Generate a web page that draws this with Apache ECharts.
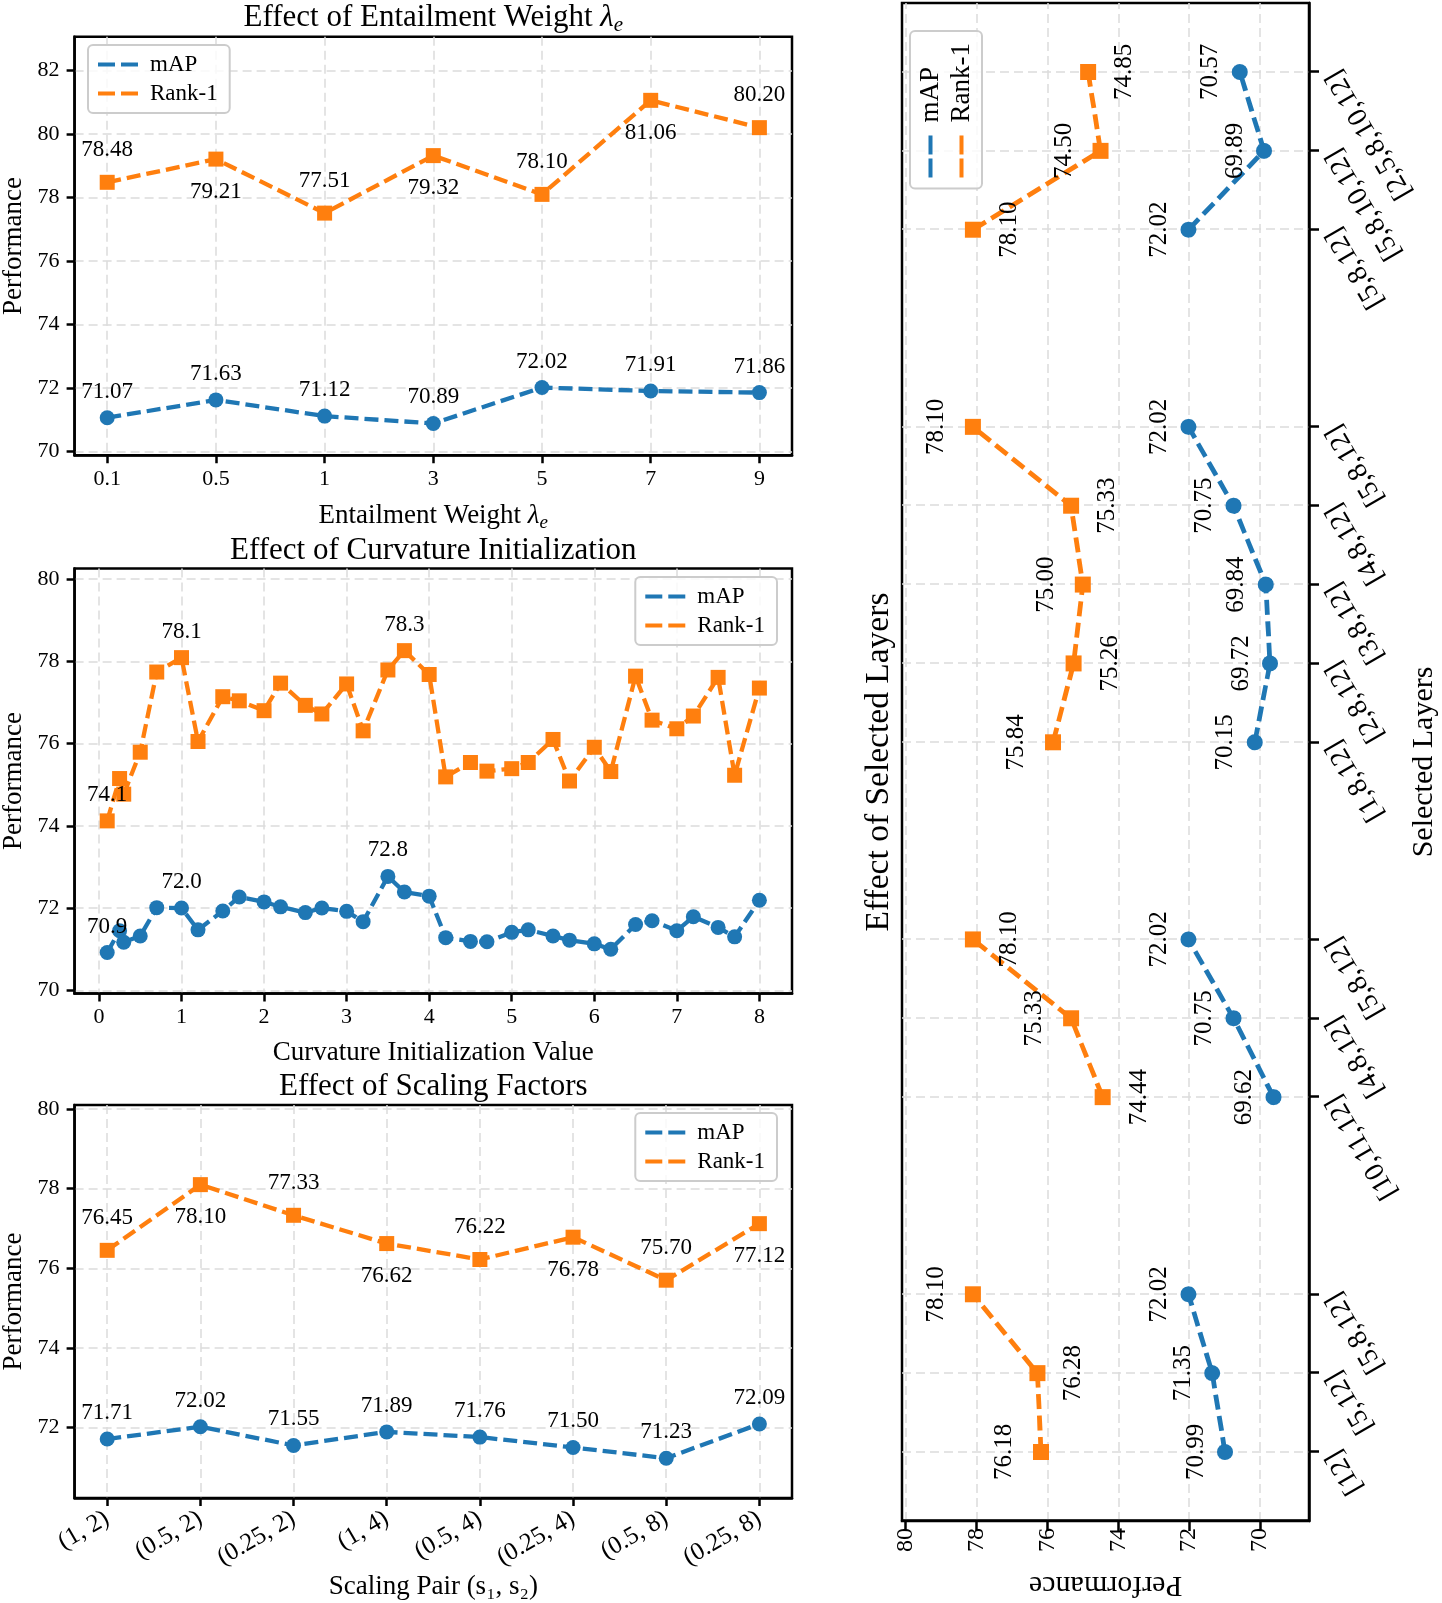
<!DOCTYPE html>
<html>
<head>
<meta charset="utf-8">
<script src="https://cdn.jsdelivr.net/npm/echarts@6.0.0/dist/echarts.min.js"></script>
<style>
  html, body { margin: 0; padding: 0; background: #fff; overflow: hidden; }
  #left { position: absolute; left: 0; top: 0; width: 840px; height: 1603px; }
  /* the layer chart is drawn upright and turned a quarter turn, like the figure */
  #right { position: absolute; left: 840px; top: 1603px; width: 1603px; height: 602px;
           transform-origin: 0 0; transform: rotate(-90deg); }
</style>
</head>
<body>
<div id="left"></div>
<div id="right"></div>
<script>
// entailment weight
const weightLabels = ['0.1', '0.5', '1', '3', '5', '7', '9'];
const weightMAP = [71.07, 71.63, 71.12, 70.89, 72.02, 71.91, 71.86];
const weightRank1 = [78.48, 79.21, 77.51, 79.32, 78.10, 81.06, 80.20];

// curvature initialization
const curvX = [0.1, 0.25, 0.3, 0.5, 0.7, 1.0, 1.2, 1.5, 1.7, 2.0, 2.2, 2.5, 2.7, 3.0, 3.2, 3.5, 3.7,
  4.0, 4.2, 4.5, 4.7, 5.0, 5.2, 5.5, 5.7, 6.0, 6.2, 6.5, 6.7, 7.0, 7.2, 7.5, 7.7, 8.0];
const curvMAP = [70.92, 71.45, 71.17, 71.32, 72.01, 72.00, 71.47, 71.93, 72.27, 72.15, 72.03, 71.89,
  72.00, 71.92, 71.67, 72.77, 72.39, 72.29, 71.28, 71.19, 71.18, 71.41, 71.47, 71.32, 71.22, 71.13,
  71.00, 71.60, 71.69, 71.45, 71.79, 71.53, 71.30, 72.19];
const curvRank1 = [74.12, 75.15, 74.77, 75.79, 77.74, 78.09, 76.05, 77.14, 77.04, 76.80, 77.47, 76.93,
  76.72, 77.45, 76.31, 77.79, 78.26, 77.68, 75.19, 75.54, 75.33, 75.39, 75.54, 76.10, 75.09, 75.91,
  75.32, 77.64, 76.57, 76.36, 76.67, 77.61, 75.23, 77.35];
const curvMarked = [0.1, 1.0]; // annotated besides the maximum

// scaling factors
const scaleLabels = ['(1, 2)', '(0.5, 2)', '(0.25, 2)', '(1, 4)', '(0.5, 4)', '(0.25, 4)', '(0.5, 8)', '(0.25, 8)'];
const scaleMAP = [71.71, 72.02, 71.55, 71.89, 71.76, 71.50, 71.23, 72.09];
const scaleRank1 = [76.45, 78.10, 77.33, 76.62, 76.22, 76.78, 75.70, 77.12];

// selected layers, groups from bottom to top
const layerLabels = [
  ['[12]', '[5,12]', '[5,8,12]'],
  ['[10,11,12]', '[4,8,12]', '[5,8,12]'],
  ['[1,8,12]', '[2,8,12]', '[3,8,12]', '[4,8,12]', '[5,8,12]'],
  ['[5,8,12]', '[5,8,10,12]', '[2,5,8,10,12]']
];
const layerMAP = [[70.99, 71.35, 72.02], [69.62, 70.75, 72.02], [70.15, 69.72, 69.84, 70.75, 72.02], [72.02, 69.89, 70.57]];
const layerRank1 = [[76.18, 76.28, 78.10], [74.44, 75.33, 78.10], [75.84, 75.26, 75.00, 75.33, 78.10], [78.10, 74.50, 74.85]];

const perfTicks = [70, 72, 74, 76, 78, 80, 82];

const BLUE = '#1f77b4';
const ORANGE = '#ff7f0e';
const FONT = '"Liberation Serif", "Times New Roman", serif';
const GRIDLINE = { show: true, lineStyle: { color: '#dcdcdc', width: 1.5, type: [9, 5] } };

// matplotlib-like limits: y from min-1 to max+2, x with 5% margins
function yRange(a, b) {
  const all = a.concat(b);
  return [Math.min(...all) - 1, Math.max(...all) + 2];
}
function pad(lo, hi) {
  const m = (hi - lo) * 0.05;
  return [lo - m, hi + m];
}
function ticksIn(r) {
  return perfTicks.filter(v => v >= r[0] && v <= r[1]);
}

function txt(size, extra) {
  return Object.assign({ fontFamily: FONT, fontSize: size, color: '#000', fontWeight: 'normal' }, extra || {});
}

function axis(gi, range, ticks, fontSize, labelExtra, tickLen) {
  return {
    type: 'value', gridIndex: gi, min: range[0], max: range[1],
    nameMoveOverlap: false,
    axisLine: { show: true, onZero: false, lineStyle: { color: '#000', width: 2.5 } },
    axisTick: { show: true, length: tickLen || 8, customValues: ticks, lineStyle: { color: '#000', width: 2.5 } },
    axisLabel: Object.assign({ customValues: ticks, fontFamily: FONT, fontSize: fontSize, color: '#000' }, labelExtra || {}),
    splitLine: GRIDLINE,
    nameTextStyle: txt(27)
  };
}

function legendAt(pos, fontSize, iconPath, iconW, gap, padding) {
  return Object.assign({
    orient: 'vertical',
    data: ['mAP', 'Rank-1'],
    icon: iconPath,
    itemWidth: iconW, itemHeight: 4, itemGap: gap,
    padding: padding,
    backgroundColor: 'rgba(255,255,255,0.8)',
    borderColor: '#cccccc', borderWidth: 2, borderRadius: 5,
    textStyle: txt(fontSize),
    selectedMode: false
  }, pos);
}

function line(name, color, symbol, data, gi, size, width, dash, label) {
  return {
    name: name, type: 'line', xAxisIndex: gi, yAxisIndex: gi,
    data: data, symbol: symbol, symbolSize: size, showAllSymbol: true,
    itemStyle: { color: color },
    lineStyle: { color: color, width: width, type: dash },
    label: label,
    emphasis: { disabled: true },
    z: 3
  };
}

function valLabel(digits, dist, size, show) {
  return {
    show: show, position: 'top', distance: dist,
    formatter: p => p.value[1].toFixed(digits),
    fontFamily: FONT, fontSize: size, color: '#000'
  };
}

// ---------- left column ----------
const leftIcon = 'path://M0,0H17V4H0Z M23,0H40V4H23Z M47,0V4';
const grids = [
  { left: 74.6, top: 36.8, width: 717.4, height: 418.4 },
  { left: 74.6, top: 568.4, width: 717.4, height: 425.2 },
  { left: 74.6, top: 1105, width: 717.4, height: 393 }
].map(g => Object.assign({ show: true, borderColor: '#000', borderWidth: 2.5, backgroundColor: 'transparent',
  containLabel: false, outerBoundsMode: 'none' }, g));

const r1 = yRange(weightMAP, weightRank1);
const r2 = yRange(curvMAP, curvRank1);
const r3 = yRange(scaleMAP, scaleRank1);
const x1 = pad(0, weightLabels.length - 1);
const x2 = pad(Math.min(...curvX), Math.max(...curvX));
const x3 = pad(0, scaleLabels.length - 1);

const catFmt = labels => v => (Number.isInteger(v) && labels[v] !== undefined ? labels[v] : '');

const xa1 = axis(0, x1, weightLabels.map((_, i) => i), 22, { margin: 13, formatter: catFmt(weightLabels) });
xa1.name = 'Entailment Weight {l|λ}{e|e}';
const xa2 = axis(1, x2, [0, 1, 2, 3, 4, 5, 6, 7, 8], 22, { margin: 13 });
xa2.name = 'Curvature Initialization Value';
const xa3 = axis(2, x3, scaleLabels.map((_, i) => i), 25, { margin: 19, rotate: 30, formatter: catFmt(scaleLabels) });
xa3.name = 'Scaling Pair (s\u2081, s\u2082)';
[xa1, xa2, xa3].forEach((a, i) => {
  a.nameLocation = 'middle';
  a.nameGap = [45, 43, 73][i];
  a.nameTextStyle = txt(27, { rich: { l: txt(27, { fontStyle: 'italic', lineHeight: 32 }), e: txt(19, { fontStyle: 'italic', verticalAlign: 'bottom', lineHeight: 12 }) }, lineHeight: 32 });
});

const yas = [r1, r2, r3].map((r, i) => {
  const a = axis(i, r, ticksIn(r), 22, { margin: 15 });
  a.name = 'Performance';
  a.nameLocation = 'middle';
  a.nameGap = 47;
  return a;
});

const rankSide = i => ({ label: { position: i % 2 === 0 ? 'top' : 'bottom' } });

const LW = 4.3, DASH = [14, 6], MS = 15;
const leftSeries = [
  line('mAP', BLUE, 'circle', weightMAP.map((v, i) => [i, v]), 0, MS, LW, DASH, valLabel(2, 7, 23, true)),
  line('Rank-1', ORANGE, 'rect', weightRank1.map((v, i) => Object.assign({ value: [i, v] }, rankSide(i))), 0, MS, LW, DASH, valLabel(2, 13.5, 23, true)),
  line('mAP', BLUE, 'circle', curvMAP.map((v, i) => ({
    value: [curvX[i], v],
    label: { show: curvMarked.includes(curvX[i]) || v === Math.max(...curvMAP) }
  })), 1, MS, LW, DASH, valLabel(1, 7, 23, false)),
  line('Rank-1', ORANGE, 'rect', curvRank1.map((v, i) => ({
    value: [curvX[i], v],
    label: { show: curvMarked.includes(curvX[i]) || v === Math.max(...curvRank1) }
  })), 1, MS, LW, DASH, valLabel(1, 7, 23, false)),
  line('mAP', BLUE, 'circle', scaleMAP.map((v, i) => [i, v]), 2, MS, LW, DASH, valLabel(2, 7, 23, true)),
  line('Rank-1', ORANGE, 'rect', scaleRank1.map((v, i) => Object.assign({ value: [i, v] }, rankSide(i))), 2, MS, LW, DASH, valLabel(2, 13.5, 23, true))
];

const titleRich = { l: txt(31, { fontStyle: 'italic', lineHeight: 36 }), e: txt(21, { fontStyle: 'italic', verticalAlign: 'bottom', lineHeight: 14 }) };

const leftChart = echarts.init(document.getElementById('left'));
leftChart.setOption({
  animation: false,
  backgroundColor: '#fff',
  title: [
    { text: 'Effect of Entailment Weight {l|λ}{e|e}', left: 433.3, top: 0, textAlign: 'center', padding: 0,
      textStyle: txt(31, { lineHeight: 36, rich: titleRich }) },
    { text: 'Effect of Curvature Initialization', left: 433.3, top: 534, textAlign: 'center', padding: 0,
      textStyle: txt(31, { lineHeight: 34 }) },
    { text: 'Effect of Scaling Factors', left: 433.3, top: 1069.5, textAlign: 'center', padding: 0,
      textStyle: txt(31, { lineHeight: 34 }) }
  ],
  legend: [
    legendAt({ left: 88, top: 45 }, 23, leftIcon, 47, 6, [8, 12, 8, 10]),
    legendAt({ right: 63, top: 577 }, 23, leftIcon, 47, 6, [8, 12, 8, 10]),
    legendAt({ right: 63, top: 1113 }, 23, leftIcon, 47, 6, [8, 12, 8, 10])
  ],
  grid: grids,
  xAxis: [xa1, xa2, xa3],
  yAxis: yas,
  series: leftSeries
});

// ---------- selected layers (drawn upright, then rotated) ----------
const layerPos = [];
let pos = 0;
layerLabels.forEach(g => {
  layerPos.push(g.map(() => pos++));
  pos += 1.5; // blank space between groups
});
const layerTick = {};
layerPos.forEach((row, gi) => row.forEach((p, k) => { layerTick[p.toFixed(2)] = layerLabels[gi][k]; }));
const allPos = layerPos.flat();
const xr = pad(0, Math.max(...allPos));
const yr = yRange(layerMAP.flat(), layerRank1.flat());

const rx = axis(0, xr, allPos, 28, { margin: 24, rotate: 30, formatter: v => layerTick[v.toFixed(2)] || '' }, 10);
rx.name = 'Selected Layers';
rx.nameLocation = 'middle';
rx.nameGap = 100;
rx.nameTextStyle = txt(30);
const ry = axis(0, yr, ticksIn(yr), 24, { margin: 7 }, 10);
ry.name = 'Performance';
ry.nameLocation = 'middle';
ry.nameGap = 49;
ry.nameTextStyle = txt(30);

const rightSeries = [];
let j = 0;
layerPos.forEach((row, gi) => {
  rightSeries.push(line('mAP', BLUE, 'circle', row.map((p, k) => [p, layerMAP[gi][k]]), 0, 16, 4.8, [15, 6.5], valLabel(2, 8.5, 25, true)));
  rightSeries.push(line('Rank-1', ORANGE, 'rect', row.map((p, k) => Object.assign({ value: [p, layerRank1[gi][k]] }, rankSide(j++))), 0, 16, 4.8, [15, 6.5], valLabel(2, 16, 25, true)));
});

const rightChart = echarts.init(document.getElementById('right'));
rightChart.setOption({
  animation: false,
  backgroundColor: '#fff',
  title: { text: 'Effect of Selected Layers', left: 841, top: 21, textAlign: 'center', padding: 0,
    textStyle: txt(33.5, { lineHeight: 36 }) },
  legend: legendAt({ right: 31, top: 70 }, 27, 'path://M0,0H19V4H0Z M23,0H42V4H23Z M50,0V4', 50, 4, [7, 12, 7, 11]),
  grid: { show: true, left: 82, right: 3, top: 62, bottom: 133, borderColor: '#000', borderWidth: 2.5,
    backgroundColor: 'transparent', containLabel: false, outerBoundsMode: 'none' },
  xAxis: rx,
  yAxis: ry,
  series: rightSeries
});
</script>
</body>
</html>
